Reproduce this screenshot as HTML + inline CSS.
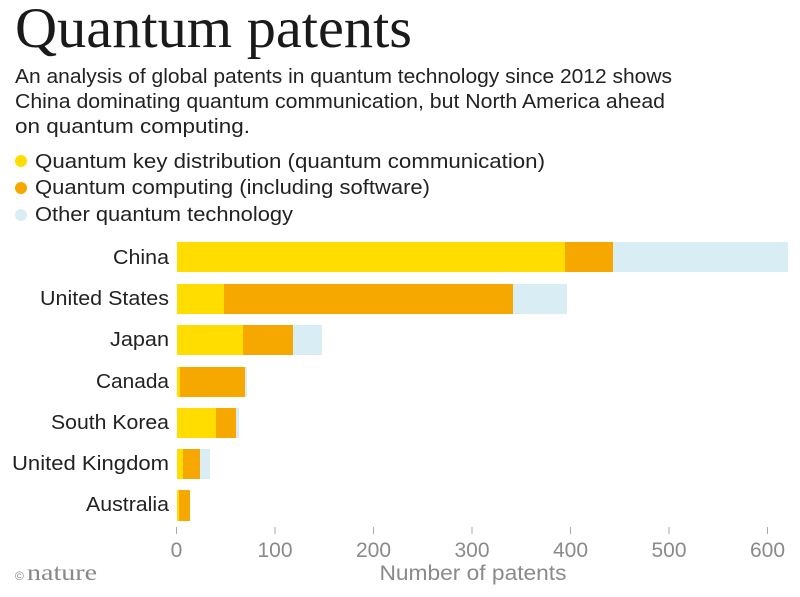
<!DOCTYPE html><html><head><style>body{margin:0;background:#fff}svg{display:block}</style></head><body>
<svg width="800" height="597" xmlns="http://www.w3.org/2000/svg" font-family="Liberation Sans, sans-serif">
<text x="15" y="47" font-family="Liberation Serif, serif" font-size="57" fill="#1a1a1a" textLength="397" lengthAdjust="spacingAndGlyphs">Quantum patents</text>
<g font-size="20" fill="#222">
<text x="15" y="83" textLength="657" lengthAdjust="spacingAndGlyphs">An analysis of global patents in quantum technology since 2012 shows</text>
<text x="15" y="108" textLength="650" lengthAdjust="spacingAndGlyphs">China dominating quantum communication, but North America ahead</text>
<text x="15" y="133" textLength="235" lengthAdjust="spacingAndGlyphs">on quantum computing.</text>
<text x="35" y="168" textLength="510" lengthAdjust="spacingAndGlyphs">Quantum key distribution (quantum communication)</text>
<text x="35" y="194" textLength="395" lengthAdjust="spacingAndGlyphs">Quantum computing (including software)</text>
<text x="35" y="221" textLength="258" lengthAdjust="spacingAndGlyphs">Other quantum technology</text>
</g>
<circle cx="21" cy="161" r="6" fill="#ffdd00"/>
<circle cx="21" cy="188" r="6" fill="#f6a800"/>
<circle cx="21" cy="215" r="6" fill="#d9edf4"/>
<g font-size="20" fill="#222" text-anchor="end">
<text x="169" y="264" textLength="56" lengthAdjust="spacingAndGlyphs">China</text>
<text x="169" y="305" textLength="129" lengthAdjust="spacingAndGlyphs">United States</text>
<text x="169" y="346" textLength="59" lengthAdjust="spacingAndGlyphs">Japan</text>
<text x="169" y="388" textLength="73" lengthAdjust="spacingAndGlyphs">Canada</text>
<text x="169" y="429" textLength="118" lengthAdjust="spacingAndGlyphs">South Korea</text>
<text x="169" y="470" textLength="157" lengthAdjust="spacingAndGlyphs">United Kingdom</text>
<text x="169" y="511" textLength="83" lengthAdjust="spacingAndGlyphs">Australia</text>
</g>
<g>
<rect x="177" y="242" width="388" height="30" fill="#ffdd00"/><rect x="565" y="242" width="48" height="30" fill="#f6a800"/><rect x="613" y="242" width="175" height="30" fill="#d9edf4"/>
<rect x="177" y="284" width="47" height="30" fill="#ffdd00"/><rect x="224" y="284" width="289" height="30" fill="#f6a800"/><rect x="513" y="284" width="54" height="30" fill="#d9edf4"/>
<rect x="177" y="325" width="66" height="30" fill="#ffdd00"/><rect x="243" y="325" width="50" height="30" fill="#f6a800"/><rect x="293" y="325" width="29" height="30" fill="#d9edf4"/>
<rect x="177" y="367" width="3" height="30" fill="#ffdd00"/><rect x="180" y="367" width="65" height="30" fill="#f6a800"/><rect x="245" y="367" width="2" height="30" fill="#d9edf4"/>
<rect x="177" y="408" width="39" height="30" fill="#ffdd00"/><rect x="216" y="408" width="20" height="30" fill="#f6a800"/><rect x="236" y="408" width="3" height="30" fill="#d9edf4"/>
<rect x="177" y="449" width="6" height="30" fill="#ffdd00"/><rect x="183" y="449" width="17" height="30" fill="#f6a800"/><rect x="200" y="449" width="10" height="30" fill="#d9edf4"/>
<rect x="177" y="490" width="2" height="31" fill="#ffdd00"/><rect x="179" y="490" width="11" height="31" fill="#f6a800"/>
</g>
<g stroke="#aaa" stroke-width="1">
<line x1="176.5" y1="527" x2="176.5" y2="534"/><line x1="275" y1="527" x2="275" y2="534"/><line x1="373.5" y1="527" x2="373.5" y2="534"/><line x1="472" y1="527" x2="472" y2="534"/><line x1="570.5" y1="527" x2="570.5" y2="534"/><line x1="669" y1="527" x2="669" y2="534"/><line x1="767.5" y1="527" x2="767.5" y2="534"/>
</g>
<g font-size="21" fill="#8a8a8a" text-anchor="middle">
<text x="176.5" y="557">0</text><text x="275" y="557">100</text><text x="373.5" y="557">200</text><text x="472" y="557">300</text><text x="570.5" y="557">400</text><text x="669" y="557">500</text><text x="767.5" y="557">600</text>
<text x="473" y="580" textLength="187" lengthAdjust="spacingAndGlyphs">Number of patents</text>
</g>
<text x="15" y="580" font-size="12" fill="#888">©</text>
<text x="27" y="580" font-family="Liberation Serif, serif" font-size="23" fill="#888" textLength="70" lengthAdjust="spacingAndGlyphs">nature</text>
</svg>
</body></html>
